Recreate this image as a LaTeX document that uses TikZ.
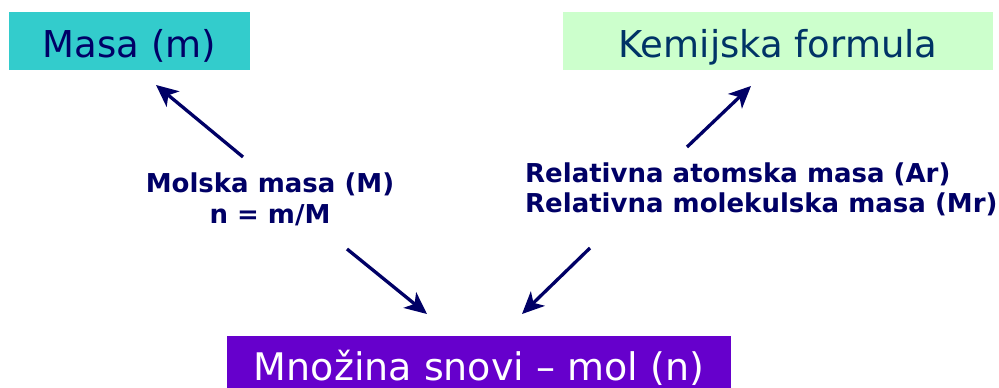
\documentclass[tikz,border=0pt]{standalone}
\usepackage{fontspec}
\setmainfont{DejaVu Sans}
\usetikzlibrary{arrows.meta}
\definecolor{navy}{HTML}{000066}
\definecolor{tealnavy}{HTML}{003366}
\definecolor{cyanbox}{HTML}{33CCCC}
\definecolor{greenbox}{HTML}{CCFFCC}
\definecolor{purplebox}{HTML}{6600CC}
\begin{document}
\begin{tikzpicture}[x=1pt,y=-1pt,
  topbox/.style={anchor=base, inner xsep=0pt, inner ysep=13pt, text height=32pt, text depth=0pt,
    font=\fontsize{37}{44}\selectfont},
  lbl/.style={anchor=base, inner sep=0pt, text=navy, font=\bfseries\fontsize{26}{31}\selectfont},
  conn/.style={draw=navy, line width=3.3pt, -{Stealth[length=22pt,width=20pt,inset=6pt]}}]
\useasboundingbox (0,0) rectangle (999,388);
\fill[white] (0,0) rectangle (999,388);

\node[topbox, fill=cyanbox, text=navy, minimum width=241pt] (masa) at (129.5,57) {Masa (m)};
\node[topbox, fill=greenbox, text=tealnavy, minimum width=430pt] (kem) at (778,57) {Kemijska formula};
\node[anchor=base, inner xsep=0pt, inner ysep=8pt, text height=36pt, text depth=0pt,
  minimum width=504pt, fill=purplebox, text=white, font=\fontsize{38}{44}\selectfont] (mol) at (479,380) {Množina snovi – mol (n)};

\node[lbl, align=center] (molska) at (270,223) {Molska masa (M)\\n = m/M};
\node[lbl, align=left, anchor=base west, font=\bfseries\fontsize{26}{30}\selectfont] (rel) at (525,212) {Relativna atomska masa (Ar)\\Relativna molekulska masa (Mr)};

\coordinate (a1s) at (243,157); \coordinate (a1e) at (156,85);
\coordinate (a2s) at (347,249); \coordinate (a2e) at (427,314);
\coordinate (a3s) at (590,248); \coordinate (a3e) at (522,314);
\coordinate (a4s) at (687,147); \coordinate (a4e) at (751,86);

\draw[conn] (a1s) -- (a1e);
\draw[conn] (a2s) -- (a2e);
\draw[conn] (a3s) -- (a3e);
\draw[conn] (a4s) -- (a4e);
\end{tikzpicture}
\end{document}
